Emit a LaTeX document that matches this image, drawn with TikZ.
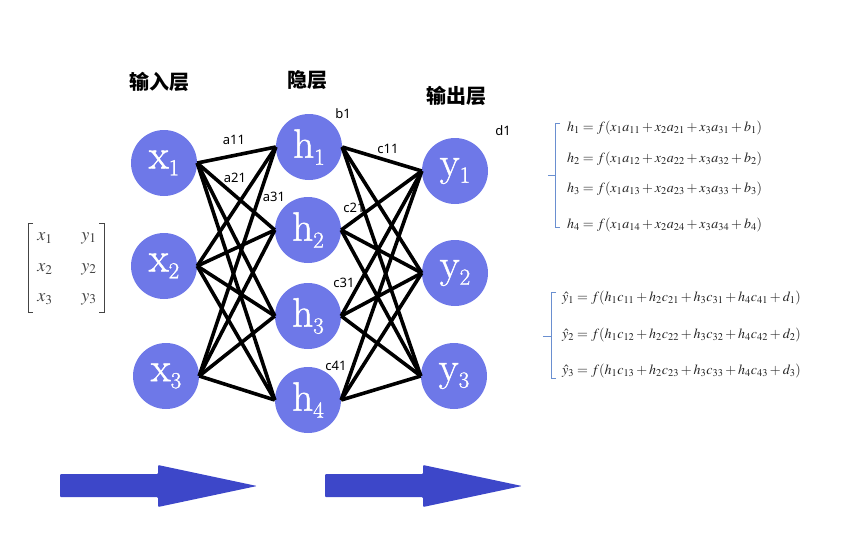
\documentclass[tikz,border=0pt]{standalone}
\usepackage{mathptmx}
\usepackage{fontspec}
\setmainfont{Latin Modern Roman}
\newfontfamily\cjk{Noto Sans CJK SC}
\newfontfamily\lblfont{Noto Sans}
\newfontfamily\nodefont[FakeBold=1.2]{Latin Modern Roman}
\definecolor{nodeblue}{HTML}{6E78E8}
\definecolor{arrowblue}{HTML}{3D47C9}
\definecolor{bracecol}{HTML}{6A8FD0}
\definecolor{eqcol}{HTML}{222222}
\definecolor{mtxcol}{HTML}{444444}
\tikzset{
  neuron/.style={circle,fill=nodeblue,minimum size=66pt,inner sep=0pt,text=white},
  conn/.style={line width=3.6pt,black},
  wlabel/.style={font=\lblfont\fontsize{13}{13}\selectfont,inner sep=0pt},
  title/.style={font=\cjk\bfseries\fontsize{20}{20}\selectfont,inner sep=0pt},
  eq/.style={anchor=west,inner sep=0pt,text=eqcol,font=\fontsize{14}{15}\selectfont},
  mtx/.style={inner sep=0pt,text=mtxcol,font=\fontsize{18}{18}\selectfont},
  bracel/.style={bracecol,line width=1pt},
  fatarrow/.style={fill=arrowblue,rounded corners=1pt}
}
\newcommand{\nlab}[2]{{\nodefont\fontsize{41}{41}\selectfont #1}\raisebox{-7pt}{\nodefont\fontsize{23}{23}\selectfont #2}}
\begin{document}
\begin{tikzpicture}[x=1pt,y=-1pt]
\useasboundingbox (0,0) rectangle (865,550);
% titles
\node[title] (t1) at (159,82) {输入层};
\node[title] (t2) at (307,80) {隐层};
\node[title] (t3) at (456,96) {输出层};
% neurons
\node[neuron] (x1) at (164,163) {\nlab{x}{1}};
\node[neuron] (x2) at (164,266) {\nlab{x}{2}};
\node[neuron] (x3) at (166,376) {\nlab{x}{3}};
\node[neuron] (h1) at (309,147) {\nlab{h}{1}};
\node[neuron] (h2) at (308,230) {\nlab{h}{2}};
\node[neuron] (h3) at (308,316) {\nlab{h}{3}};
\node[neuron] (h4) at (308,400) {\nlab{h}{4}};
\node[neuron] (y1) at (455,171) {\nlab{y}{1}};
\node[neuron] (y2) at (455,273) {\nlab{y}{2}};
\node[neuron] (y3) at (454,376) {\nlab{y}{3}};
% connections
\foreach \i in {1,2,3}{
  \foreach \j in {1,2,3,4}{
    \draw[conn] (x\i.east) -- (h\j.west);
  }
}
\foreach \j in {1,2,3,4}{
  \foreach \k in {1,2,3}{
    \draw[conn] (h\j.east) -- (y\k.west);
  }
}
% weight labels
\node[wlabel] (la11) at (234,140) {a11};
\node[wlabel] (la21) at (235,178) {a21};
\node[wlabel] (la31) at (274,197) {a31};
\node[wlabel] (lb1) at (343,114) {b1};
\node[wlabel] (lc11) at (388,149) {c11};
\node[wlabel] (lc21) at (354,208) {c21};
\node[wlabel] (lc31) at (344,283) {c31};
\node[wlabel] (lc41) at (336,366) {c41};
\node[wlabel] (ld1) at (503,131) {d1};
% matrix
\draw[mtxcol,line width=0.9pt] (33,223) -- (28,223) -- (28,312) -- (33,312);
\draw[mtxcol,line width=0.9pt] (99,223) -- (104,223) -- (104,312) -- (99,312);
\node[mtx] (m11) at (45,238) {$x_1$};
\node[mtx] (m12) at (89,238) {$y_1$};
\node[mtx] (m21) at (45,269) {$x_2$};
\node[mtx] (m22) at (89,269) {$y_2$};
\node[mtx] (m31) at (45,299) {$x_3$};
\node[mtx] (m32) at (89,299) {$y_3$};
% first equation block
\draw[bracel] (560,123) -- (555,123) -- (555,227) -- (560,227);
\draw[bracel] (548,175) -- (555,175);
\node[eq] (e1) at (567,128) {$h_1=f(x_1a_{11}+x_2a_{21}+x_3a_{31}+b_1)$};
\node[eq] (e2) at (567,159) {$h_2=f(x_1a_{12}+x_2a_{22}+x_3a_{32}+b_2)$};
\node[eq] (e3) at (567,189) {$h_3=f(x_1a_{13}+x_2a_{23}+x_3a_{33}+b_3)$};
\node[eq] (e4) at (567,225) {$h_4=f(x_1a_{14}+x_2a_{24}+x_3a_{34}+b_4)$};
% second equation block
\draw[bracel] (556,292) -- (551,292) -- (551,378) -- (556,378);
\draw[bracel] (543,336) -- (551,336);
\node[eq] (f1) at (562,298) {$\hat{y}_1=f(h_1c_{11}+h_2c_{21}+h_3c_{31}+h_4c_{41}+d_1)$};
\node[eq] (f2) at (562,335) {$\hat{y}_2=f(h_1c_{12}+h_2c_{22}+h_3c_{32}+h_4c_{42}+d_2)$};
\node[eq] (f3) at (562,371) {$\hat{y}_3=f(h_1c_{13}+h_2c_{23}+h_3c_{33}+h_4c_{43}+d_3)$};
% fat arrows
\fill[fatarrow] (60,474) -- (158,474) -- (158,465) -- (257,486) -- (158,507) -- (158,497) -- (60,497) -- cycle;
\fill[fatarrow] (325,474) -- (423,474) -- (423,465) -- (522,486) -- (423,507) -- (423,497) -- (325,497) -- cycle;
\end{tikzpicture}
\end{document}
